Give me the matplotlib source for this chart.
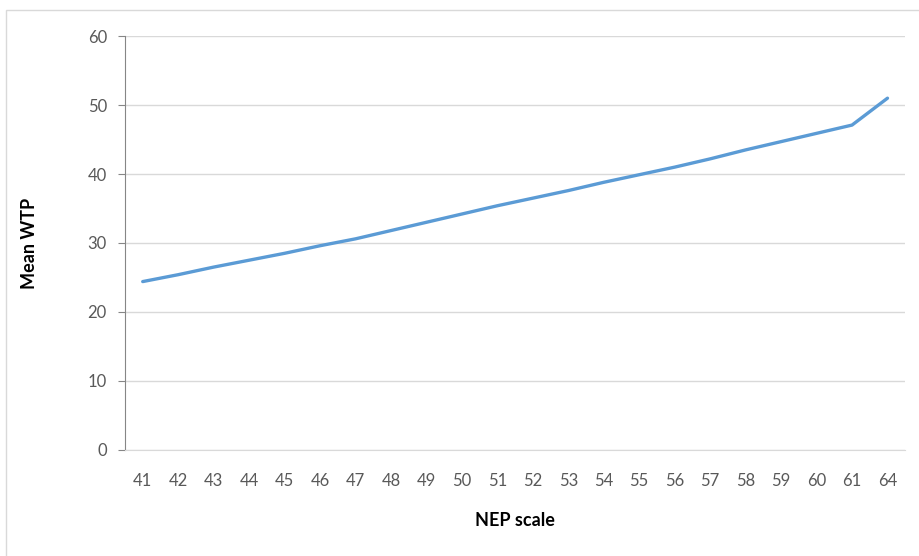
import matplotlib

matplotlib.use("Agg")
import matplotlib.pyplot as plt
from matplotlib.patches import Rectangle

# NEP scale categories and mean WTP
nep_scale = ["41", "42", "43", "44", "45", "46", "47", "48", "49", "50", "51",
             "52", "53", "54", "55", "56", "57", "58", "59", "60", "61", "64"]
mean_wtp = [24.4, 25.4, 26.5, 27.5, 28.5, 29.6, 30.6, 31.8, 33.0, 34.2, 35.4,
            36.5, 37.6, 38.8, 39.9, 41.0, 42.2, 43.5, 44.7, 45.9, 47.1, 51.0]
y_ticks = [0, 10, 20, 30, 40, 50, 60]

plt.rcParams["font.family"] = ["Lato", "DejaVu Sans"]

fig = plt.figure(figsize=(9.19, 5.56), dpi=100)
fig.patches.append(Rectangle((0.006, -0.01), 1.0, 0.992, transform=fig.transFigure,
                             fill=False, edgecolor="#d9d9d9", linewidth=1))
ax = fig.add_axes([0.136, 0.191, 0.849, 0.744])

x = list(range(len(nep_scale)))
ax.plot(x, mean_wtp, color="#5B9BD5", linewidth=2.4, solid_capstyle="round")

ax.set_xlim(-0.5, len(nep_scale) - 0.5)
ax.set_ylim(0, 60)
ax.set_yticks(y_ticks)
ax.set_xticks(x)
ax.set_xticklabels(nep_scale)
ax.yaxis.grid(True, color="#d9d9d9", linewidth=1)
ax.set_axisbelow(True)

for side in ("top", "right"):
    ax.spines[side].set_visible(False)
ax.spines["left"].set_color("#868686")
ax.spines["bottom"].set_color("#d9d9d9")
ax.tick_params(axis="y", colors="#868686", labelcolor="#595959", labelsize=12,
               length=5, pad=8)
ax.tick_params(axis="x", length=0, labelcolor="#595959", labelsize=12, pad=17)

ax.set_xlabel("NEP scale", fontsize=13, fontweight="bold", labelpad=16)
ax.set_ylabel("Mean WTP", fontsize=13, fontweight="bold", labelpad=36)

fig.savefig("out.png", dpi=100)
